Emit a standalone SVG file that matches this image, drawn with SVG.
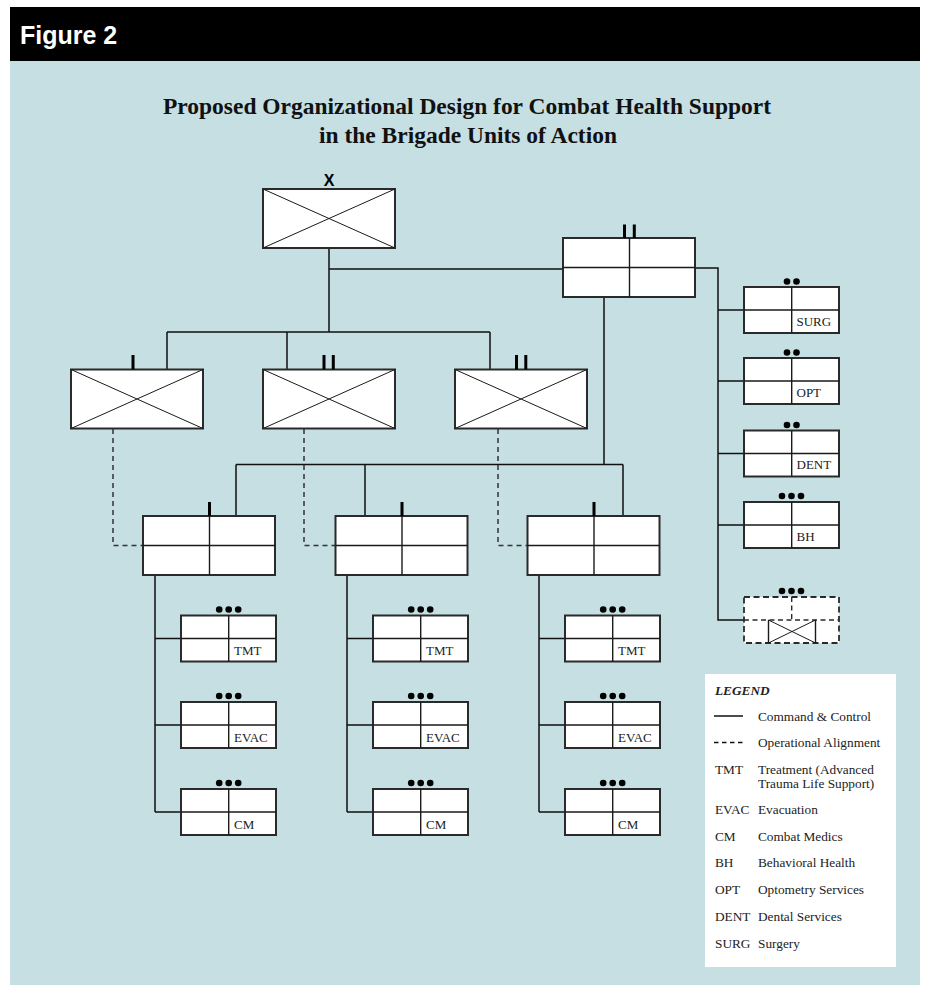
<svg xmlns="http://www.w3.org/2000/svg" width="929" height="992" viewBox="0 0 929 992">
  <style>
    .bx { fill: #ffffff; stroke: #2a2a2a; stroke-width: 2; }
    .in { fill: none; stroke: #1a1a1a; stroke-width: 1.4; }
    .dg { fill: none; stroke: #1a1a1a; stroke-width: 1; }
    .cn { fill: none; stroke: #111111; stroke-width: 1.5; }
    .op { fill: none; stroke: #333333; stroke-width: 1.5; stroke-dasharray: 5 4; }
    .mk { fill: #000000; }
    .lb { font-family: "Liberation Serif", "Times New Roman", serif; font-size: 13px; fill: #222222; }
    .lg { font-family: "Liberation Serif", "Times New Roman", serif; font-size: 13.3px; fill: #222222; }
    .ti { font-family: "Liberation Serif", "Times New Roman", serif; font-size: 23px; font-weight: bold; fill: #111111; text-anchor: middle; }
  </style>
  <defs>
    <!-- unit frame with crossed diagonals (132 x 59) -->
    <g id="xbox">
      <rect class="bx" x="0" y="0" width="132" height="59"/>
      <path class="dg" d="M0 0 L132 59 M132 0 L0 59"/>
    </g>
    <!-- battalion frame split in quarters (132 x 59) -->
    <g id="qbox">
      <rect class="bx" x="0" y="0" width="132" height="59"/>
      <path class="in" d="M66.5 0 V59 M0 29.5 H132"/>
    </g>
    <!-- team frame split in quarters (95 x 46) -->
    <g id="tbox">
      <rect class="bx" x="0" y="0" width="95" height="46"/>
      <path class="in" d="M47.7 0 V46 M0 23 H95"/>
    </g>
  </defs>

  <!-- background panel and heading bar -->
  <rect x="10" y="61" width="910" height="924" fill="#c5dfe3"/>
  <rect x="10" y="7" width="910" height="54" fill="#000000"/>
  <text x="20" y="44" font-family="'Liberation Sans', Arial, sans-serif" font-size="25" font-weight="bold" fill="#ffffff">Figure 2</text>

  <text class="ti" x="467" y="114" textLength="608" lengthAdjust="spacingAndGlyphs">Proposed Organizational Design for Combat Health Support</text>
  <text class="ti" x="468" y="143" textLength="298" lengthAdjust="spacingAndGlyphs">in the Brigade Units of Action</text>

  <!-- connectors -->
  <g id="connectors">
    <path class="cn" d="M329 248 V332 M329 269 H563 M167 332 H490 M167 332 V369.5 M287 332 V369.5 M490 332 V369.5"/>
    <path class="cn" d="M695 268 H718 V620 H744 M718 310 H744 M718 381 H744 M718 453.5 H744 M718 525 H744"/>
    <path class="cn" d="M604 297 V464.5 M236 464.5 H623 M236 464.5 V516 M365 464.5 V516 M623 464.5 V516"/>
    <path class="cn" d="M155 575 V812 M155 638.5 H181 M155 725 H181 M155 812 H181"/>
    <path class="cn" d="M347 575 V812 M347 638.5 H373 M347 725 H373 M347 812 H373"/>
    <path class="cn" d="M539 575 V812 M539 638.5 H565 M539 725 H565 M539 812 H565"/>
    <path class="op" d="M113 429 V545.5 H143 M304 429 V545.5 H335.5 M498 429 V545.5 H527.5"/>
  </g>

  <!-- brigade -->
  <g id="brigade">
    <use href="#xbox" x="263" y="189"/>
    <text x="329" y="186" text-anchor="middle" font-family="'Liberation Sans', Arial, sans-serif" font-size="16" font-weight="bold" fill="#000">X</text>
  </g>

  <!-- support battalion -->
  <g id="support-bn">
    <use href="#qbox" x="563" y="238"/>
    <rect class="mk" x="623" y="224.5" width="3" height="13.5"/>
    <rect class="mk" x="632.8" y="224.5" width="3" height="13.5"/>
  </g>

  <!-- maneuver units -->
  <g id="unit-1">
    <use href="#xbox" x="71" y="369.5"/>
    <rect class="mk" x="131.5" y="355" width="3" height="14.5"/>
  </g>
  <g id="unit-2">
    <use href="#xbox" x="263" y="369.5"/>
    <rect class="mk" x="322.5" y="355" width="3" height="14.5"/>
    <rect class="mk" x="331.8" y="355" width="3" height="14.5"/>
  </g>
  <g id="unit-3">
    <use href="#xbox" x="455" y="369.5"/>
    <rect class="mk" x="515" y="355" width="3" height="14.5"/>
    <rect class="mk" x="524.3" y="355" width="3" height="14.5"/>
  </g>

  <!-- medical companies -->
  <g id="med-1">
    <use href="#qbox" x="143" y="516"/>
    <rect class="mk" x="208" y="502" width="3" height="14"/>
  </g>
  <g id="med-2">
    <use href="#qbox" x="335.5" y="516"/>
    <rect class="mk" x="400.5" y="502" width="3" height="14"/>
  </g>
  <g id="med-3">
    <use href="#qbox" x="527.5" y="516"/>
    <rect class="mk" x="592.5" y="502" width="3" height="14"/>
  </g>

  <!-- column 1 teams -->
  <g id="tmt-1">
    <use href="#tbox" x="181" y="615.5"/>
    <circle cx="219.2" cy="609.5" r="3.3"/><circle cx="228.7" cy="609.5" r="3.3"/><circle cx="238.2" cy="609.5" r="3.3"/>
    <text class="lb" x="234" y="655">TMT</text>
  </g>
  <g id="evac-1">
    <use href="#tbox" x="181" y="702"/>
    <circle cx="219.2" cy="696" r="3.3"/><circle cx="228.7" cy="696" r="3.3"/><circle cx="238.2" cy="696" r="3.3"/>
    <text class="lb" x="234" y="741.5">EVAC</text>
  </g>
  <g id="cm-1">
    <use href="#tbox" x="181" y="789"/>
    <circle cx="219.2" cy="783" r="3.3"/><circle cx="228.7" cy="783" r="3.3"/><circle cx="238.2" cy="783" r="3.3"/>
    <text class="lb" x="234" y="828.5">CM</text>
  </g>

  <!-- column 2 teams -->
  <g id="tmt-2">
    <use href="#tbox" x="373" y="615.5"/>
    <circle cx="411.2" cy="609.5" r="3.3"/><circle cx="420.7" cy="609.5" r="3.3"/><circle cx="430.2" cy="609.5" r="3.3"/>
    <text class="lb" x="426" y="655">TMT</text>
  </g>
  <g id="evac-2">
    <use href="#tbox" x="373" y="702"/>
    <circle cx="411.2" cy="696" r="3.3"/><circle cx="420.7" cy="696" r="3.3"/><circle cx="430.2" cy="696" r="3.3"/>
    <text class="lb" x="426" y="741.5">EVAC</text>
  </g>
  <g id="cm-2">
    <use href="#tbox" x="373" y="789"/>
    <circle cx="411.2" cy="783" r="3.3"/><circle cx="420.7" cy="783" r="3.3"/><circle cx="430.2" cy="783" r="3.3"/>
    <text class="lb" x="426" y="828.5">CM</text>
  </g>

  <!-- column 3 teams -->
  <g id="tmt-3">
    <use href="#tbox" x="565" y="615.5"/>
    <circle cx="603.2" cy="609.5" r="3.3"/><circle cx="612.7" cy="609.5" r="3.3"/><circle cx="622.2" cy="609.5" r="3.3"/>
    <text class="lb" x="618" y="655">TMT</text>
  </g>
  <g id="evac-3">
    <use href="#tbox" x="565" y="702"/>
    <circle cx="603.2" cy="696" r="3.3"/><circle cx="612.7" cy="696" r="3.3"/><circle cx="622.2" cy="696" r="3.3"/>
    <text class="lb" x="618" y="741.5">EVAC</text>
  </g>
  <g id="cm-3">
    <use href="#tbox" x="565" y="789"/>
    <circle cx="603.2" cy="783" r="3.3"/><circle cx="612.7" cy="783" r="3.3"/><circle cx="622.2" cy="783" r="3.3"/>
    <text class="lb" x="618" y="828.5">CM</text>
  </g>

  <!-- support battalion sections -->
  <g id="surg">
    <use href="#tbox" x="744" y="287"/>
    <circle cx="787" cy="281.5" r="3.3"/><circle cx="796.5" cy="281.5" r="3.3"/>
    <text class="lb" x="796.5" y="325.5">SURG</text>
  </g>
  <g id="opt">
    <use href="#tbox" x="744" y="358"/>
    <circle cx="787" cy="352.5" r="3.3"/><circle cx="796.5" cy="352.5" r="3.3"/>
    <text class="lb" x="796.5" y="396.5">OPT</text>
  </g>
  <g id="dent">
    <use href="#tbox" x="744" y="430.5"/>
    <circle cx="787" cy="425" r="3.3"/><circle cx="796.5" cy="425" r="3.3"/>
    <text class="lb" x="796.5" y="469">DENT</text>
  </g>
  <g id="bh">
    <use href="#tbox" x="744" y="502"/>
    <circle cx="782" cy="496" r="3.3"/><circle cx="791.5" cy="496" r="3.3"/><circle cx="801" cy="496" r="3.3"/>
    <text class="lb" x="796.5" y="540.5">BH</text>
  </g>
  <g id="planned-unit">
    <rect x="744" y="597" width="95" height="46" fill="#ffffff" stroke="#2a2a2a" stroke-width="1.8" stroke-dasharray="6 3.5"/>
    <path fill="none" stroke="#2a2a2a" stroke-width="1.4" stroke-dasharray="5 3.5" d="M791.7 597 V620 M744 620 H839"/>
    <path class="in" d="M768.5 620 V643 M815.5 620 V643"/>
    <path class="dg" d="M768.5 620 L815.5 643 M815.5 620 L768.5 643"/>
    <circle cx="782" cy="591" r="3.3"/><circle cx="791.5" cy="591" r="3.3"/><circle cx="801" cy="591" r="3.3"/>
  </g>

  <!-- legend -->
  <g id="legend">
    <rect x="705" y="674" width="191" height="293" fill="#ffffff"/>
    <text class="lg" x="715" y="695" font-weight="bold" font-style="italic">LEGEND</text>
    <line x1="714" y1="716" x2="743" y2="716" stroke="#111" stroke-width="1.5"/>
    <text class="lg" x="758" y="720.5">Command &amp; Control</text>
    <line x1="714" y1="742.5" x2="743" y2="742.5" stroke="#111" stroke-width="1.5" stroke-dasharray="4.5 3.5"/>
    <text class="lg" x="758" y="747">Operational Alignment</text>
    <text class="lg" x="715" y="774">TMT</text>
    <text class="lg" x="758" y="774">Treatment (Advanced</text>
    <text class="lg" x="758" y="788">Trauma Life Support)</text>
    <text class="lg" x="715" y="814">EVAC</text>
    <text class="lg" x="758" y="814">Evacuation</text>
    <text class="lg" x="715" y="840.5">CM</text>
    <text class="lg" x="758" y="840.5">Combat Medics</text>
    <text class="lg" x="715" y="867">BH</text>
    <text class="lg" x="758" y="867">Behavioral Health</text>
    <text class="lg" x="715" y="894">OPT</text>
    <text class="lg" x="758" y="894">Optometry Services</text>
    <text class="lg" x="715" y="920.5">DENT</text>
    <text class="lg" x="758" y="920.5">Dental Services</text>
    <text class="lg" x="715" y="947.5">SURG</text>
    <text class="lg" x="758" y="947.5">Surgery</text>
  </g>
</svg>
